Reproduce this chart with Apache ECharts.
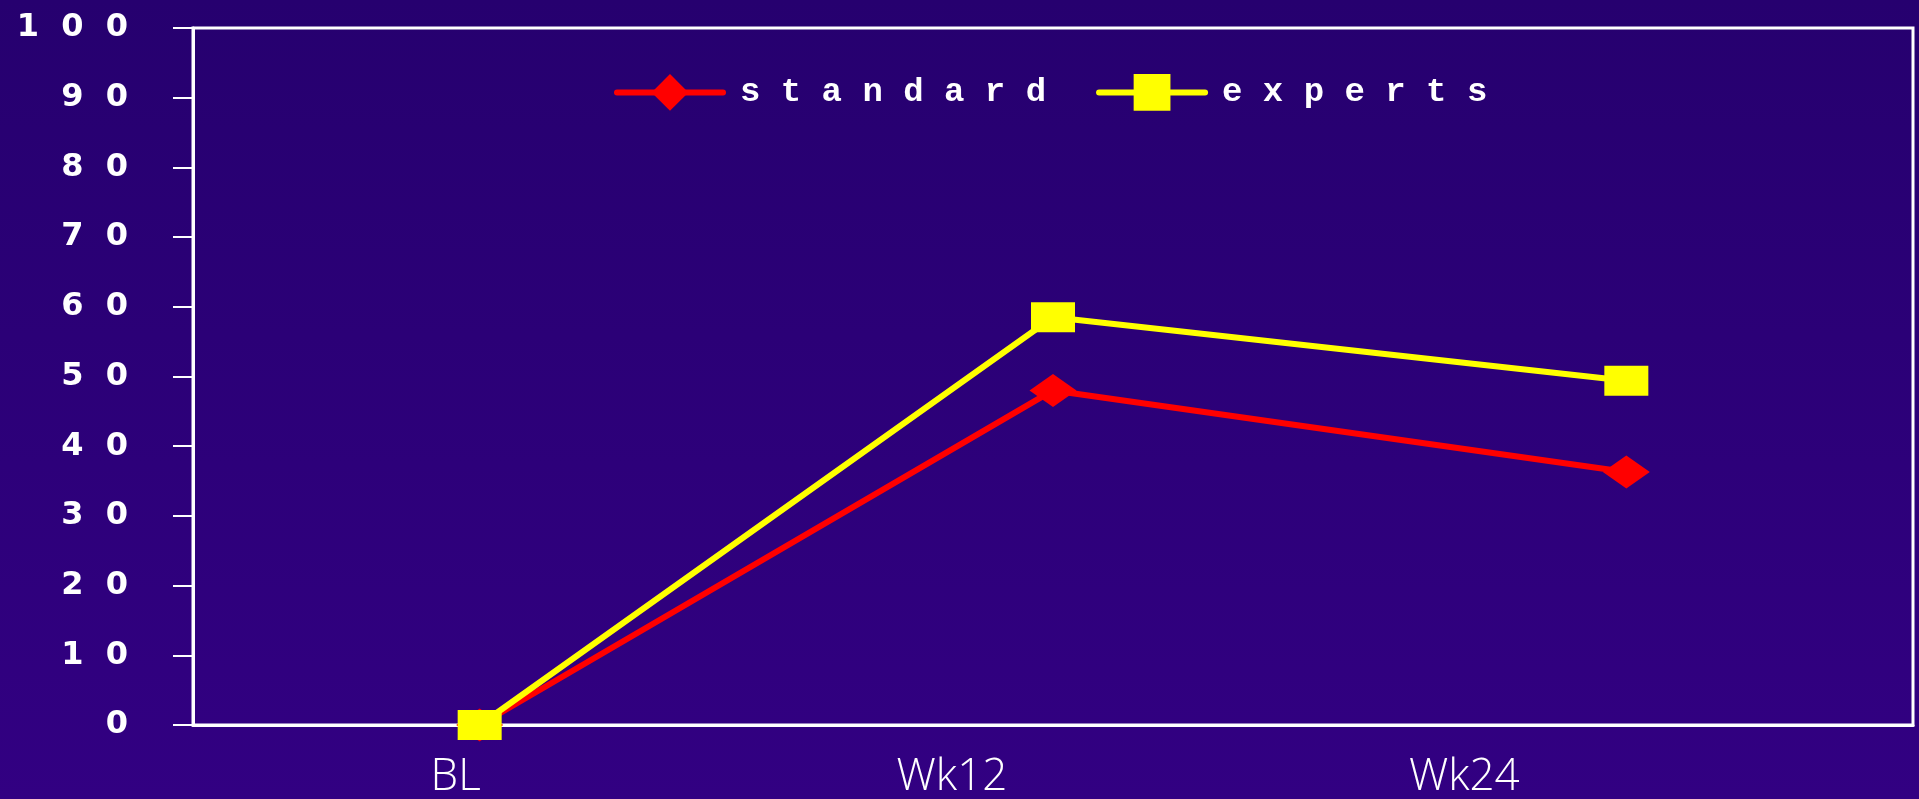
<!DOCTYPE html>
<html>
<head>
<meta charset="utf-8">
<title>standard vs experts</title>
<script src="https://cdn.jsdelivr.net/npm/echarts@6/dist/echarts.min.js"></script>
<style>
  html, body { margin: 0; padding: 0; background: #2c0078; }
  #chart { width: 1919px; height: 799px; }
</style>
</head>
<body>
<div id="chart"></div>
<script>
// Visits along the x axis
const categories = ['BL', 'Wk12', 'Wk24'];

// Series values (percent)
const standardValues = [0, 48, 36.3];
const expertsValues = [0, 58.5, 49.4];

// Y axis ticks
const yTicks = [0, 10, 20, 30, 40, 50, 60, 70, 80, 90, 100];

// Horizontal nudge (px) of each visit label relative to its category centre
const labelNudge = { BL: -24, Wk12: -101, Wk24: -162 };

const chart = echarts.init(document.getElementById('chart'), null, { renderer: 'canvas' });

const xRich = {};
categories.forEach((c, i) => {
  xRich['c' + i] = {
    fontFamily: 'Open Sans',
    fontWeight: 300,
    fontSize: 44,
    color: '#ffffff',
    padding: [0, Math.max(0, -2 * labelNudge[c]), 0, Math.max(0, 2 * labelNudge[c])]
  };
});

const spaced = (s, gap) => String(s).split('').join(gap);

chart.setOption({
  animation: false,
  backgroundColor: {
    type: 'linear', x: 0, y: 0, x2: 0, y2: 1,
    colorStops: [
      { offset: 0, color: '#26006f' },
      { offset: 1, color: '#320082' }
    ]
  },
  grid: {
    left: 193, right: 6, top: 28, bottom: 72,
    show: true,
    borderColor: '#ffffff',
    borderWidth: 3,
    backgroundColor: 'transparent'
  },
  legend: {
    left: 609,
    top: 69,
    itemWidth: 106,
    itemHeight: 46,
    itemGap: 50,
    data: ['standard', 'experts'],
    formatter: name => spaced(name, ' '),
    lineStyle: { width: 6, cap: 'round' },
    textStyle: {
      fontFamily: 'Liberation Mono',
      fontWeight: 'bold',
      fontSize: 34,
      color: '#ffffff',
      padding: [14, 0, 0, 12]
    }
  },
  xAxis: {
    type: 'category',
    data: categories,
    boundaryGap: true,
    axisLine: { lineStyle: { color: '#ffffff', width: 3 } },
    axisTick: { show: false },
    splitLine: { show: false },
    axisLabel: {
      margin: 30,
      interval: 0,
      formatter: (v, i) => '{c' + i + '|' + v + '}',
      rich: xRich
    }
  },
  yAxis: {
    type: 'value',
    min: yTicks[0],
    max: yTicks[yTicks.length - 1],
    interval: yTicks[1] - yTicks[0],
    axisLine: { show: true, lineStyle: { color: '#ffffff', width: 3 } },
    axisTick: { show: true, inside: false, length: 20, lineStyle: { color: '#ffffff', width: 2 } },
    splitLine: { show: false },
    axisLabel: {
      margin: 65,
      color: '#ffffff',
      fontFamily: 'DejaVu Sans',
      fontWeight: 'bold',
      fontSize: 32,
      padding: [0, 0, 8, 0],
      formatter: v => spaced(v, '  ')
    }
  },
  series: [
    {
      name: 'standard',
      type: 'line',
      data: standardValues,
      symbol: 'diamond',
      symbolSize: [47, 33],
      color: '#ff0000',
      lineStyle: { color: '#ff0000', width: 6 },
      itemStyle: { color: '#ff0000' },
      z: 3
    },
    {
      name: 'experts',
      type: 'line',
      data: expertsValues,
      symbol: 'rect',
      symbolSize: [44, 30],
      color: '#ffff00',
      lineStyle: { color: '#ffff00', width: 6 },
      itemStyle: { color: '#ffff00' },
      z: 4
    }
  ]
});
</script>
</body>
</html>
